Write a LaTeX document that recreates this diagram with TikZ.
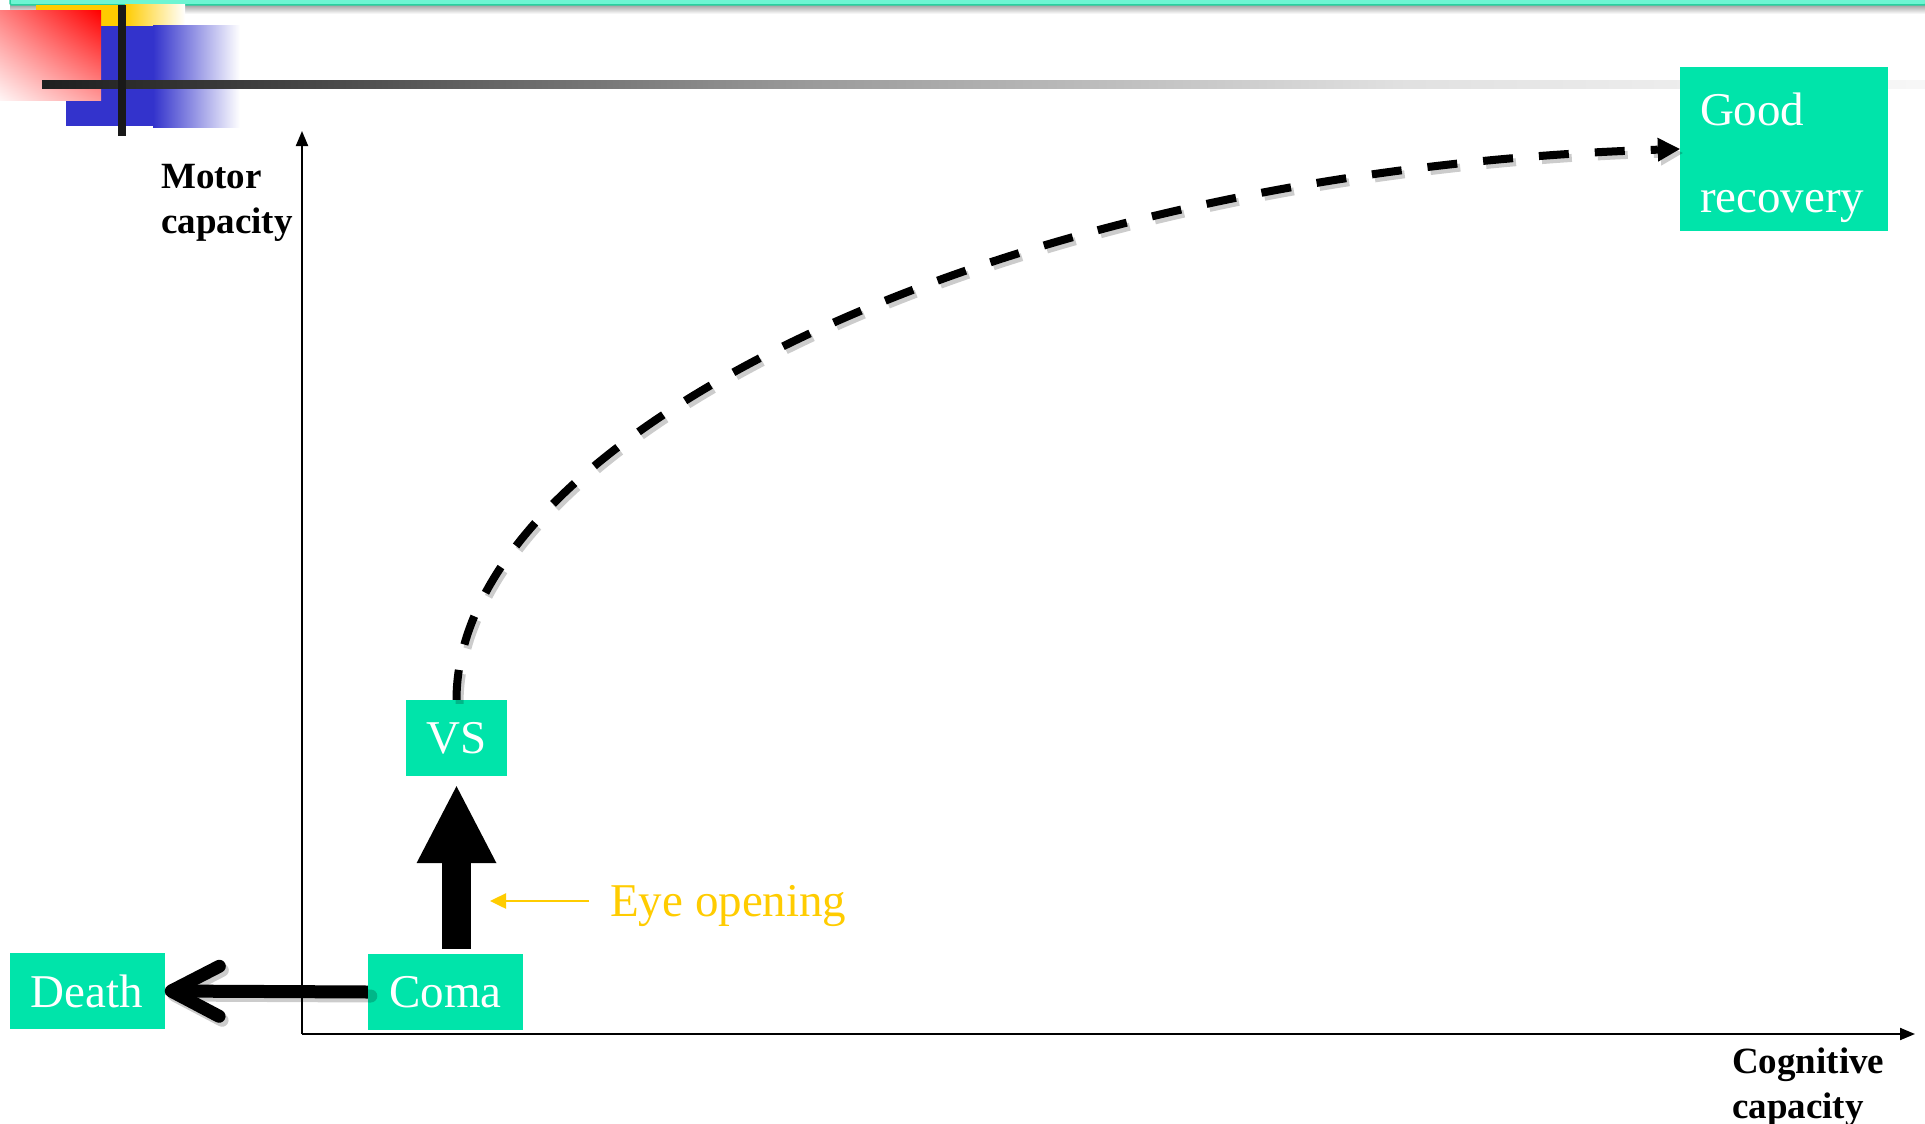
\documentclass[tikz,border=0pt]{standalone}
\usepackage{fontspec}
\setmainfont{Liberation Serif}
\usetikzlibrary{arrows.meta,calc,shadings}
\definecolor{boxteal}{RGB}{0,228,170}
\definecolor{barteal}{RGB}{110,245,210}
\definecolor{baredge}{RGB}{40,210,160}
\definecolor{eyegold}{RGB}{255,204,0}
\definecolor{decoblue}{RGB}{51,51,204}
\definecolor{decored}{RGB}{255,0,0}
\definecolor{decoyellow}{RGB}{255,204,0}

\begin{document}
\begin{tikzpicture}[x=1pt,y=-1pt,
  stateBox/.style={fill=boxteal, text=white, inner sep=0pt, font=\fontsize{47}{56}\selectfont},
  axisLabel/.style={font=\fontsize{37}{45}\selectfont\bfseries, align=left, inner sep=0pt},
  axisLine/.style={line width=2pt, -{Triangle[length=15pt,width=12pt]}},
  barbShadow/.style={preaction={draw=black, opacity=0.2, line width=13pt, line cap=round,
      transform canvas={shift={(3,4)}}}},
  dashShadow/.style={preaction={draw=black, opacity=0.2, line width=8pt,
      dash pattern=on 30pt off 26pt, transform canvas={shift={(3,4)}}}}
]
\useasboundingbox (0,0) rectangle (1925,1124);
\fill[white] (0,0) rectangle (1925,1124);

% title bar with its shadow
\shade[top color=black!40, bottom color=white] (10,4) rectangle (1925,14);
\fill[barteal, draw=baredge, line width=1.5pt, rounded corners=2pt] (10,-3) rectangle (1926,5);

% corner decoration
\fill[decoyellow] (36,5) rectangle (125,26);
\shade[left color=decoyellow, right color=white] (125,5) rectangle (185,26);
\fill[decoblue] (66,26) rectangle (153,126);
\shade[left color=decoblue, right color=white] (153,26) rectangle (240,127);
\shade[upper right=decored, upper left=decored!50!white, lower right=decored!40!white, lower left=decored!4!white] (0,11) rectangle (101,100);
\shade[left color=black!88, right color=black!73] (42,81) rectangle (300,88);
\shade[left color=black!73, right color=black!40] (300,81) rectangle (800,88);
\shade[left color=black!40, right color=black!12] (800,81) rectangle (1400,88);
\shade[left color=black!12, right color=black!3] (1400,81) rectangle (1925,88);
\fill[black!90] (118,5) rectangle (126,136);

% axes
\coordinate (origin) at (302,1034);
\coordinate (ytip) at (302,131);
\coordinate (xtip) at (1915,1034);
\draw[axisLine] (origin) -- (ytip);
\draw[axisLine] (origin) -- (xtip);
\node[axisLabel, anchor=west] (motor) at (161,203) {Motor\\capacity};
\node[axisLabel, anchor=west] (cog) at (1732,1087) {Cognitive\\capacity};

% states
\node[stateBox, minimum width=155pt, minimum height=76pt] (death) at (87,991) {Death};
\node[stateBox, minimum width=155pt, minimum height=76pt] (coma) at (445.5,992) {Coma};
\node[stateBox, minimum width=101pt, minimum height=76pt] (vs) at (456.5,738) {VS};
\node[stateBox, minimum width=208pt, minimum height=164pt, text width=168pt, align=left,
      font=\fontsize{47}{87}\selectfont] (good) at (1784,149) {\rule{0pt}{50pt}Good\\recovery};

% transitions
\draw[line width=29pt, -{Triangle[length=77pt,width=80pt,line width=0pt]}, shorten <=5pt, shorten >=10pt]
  (coma.north -| vs.south) -- (vs.south);
\draw[line width=13pt, barbShadow, -{Straight Barb[length=48pt,width=50pt,round]}]
  (coma.west) -- (death.east);
\coordinate (c1) at (457,435);
\coordinate (c2) at (1000,170);
\draw[line width=8pt, dash pattern=on 30pt off 26pt, dashShadow,
      -{Triangle[length=22pt,width=24pt,line width=0pt]}]
  (vs.north) .. controls (c1) and (c2) .. (good.west);

% annotation
\node[font=\fontsize{47}{56}\selectfont, text=eyegold, anchor=base west, inner sep=0pt] (eye) at (610,916) {Eye opening};
\coordinate (eyetip) at (490,901);
\draw[eyegold, line width=2.5pt, -{Triangle[length=16pt,width=15pt]}]
  ($(eye.base west)+(-21,-15)$) -- (eyetip);
\end{tikzpicture}
\end{document}
